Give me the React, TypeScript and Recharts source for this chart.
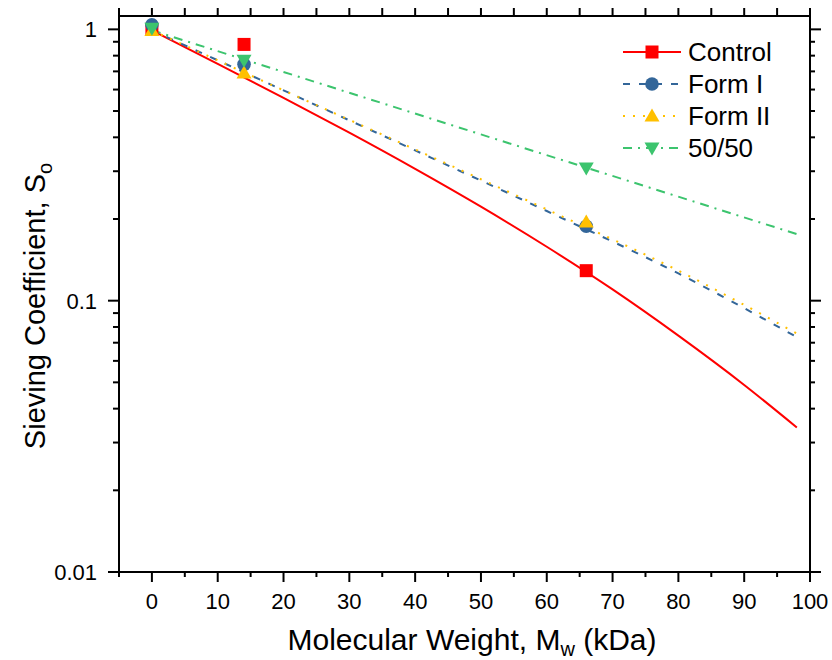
// Sieving coefficient vs molecular weight (log y)
import { ComposedChart, Line, Scatter, XAxis, YAxis, Customized } from "recharts";

const FONT = "'Liberation Sans', Arial, sans-serif";

// fitted curves
const fitX = [0, 10, 20, 30, 40, 50, 60, 70, 80, 90, 98];
const controlFit = [0.992, 0.746, 0.559, 0.416, 0.306, 0.222, 0.158, 0.11, 0.0743, 0.0489, 0.0341];
const formFitX = [0, 20, 40, 60, 80, 98];
const formIFit = [0.992, 0.596, 0.358, 0.214, 0.126, 0.0734];
const formIIFit = [0.992, 0.596, 0.361, 0.217, 0.129, 0.0757];
const blendFitX = [0, 50, 98];
const blendFit = [0.992, 0.41, 0.176];

// measured points
const measX = [0, 14, 66];
const controlPts = [1.0, 0.88, 0.129];
const formIPts = [1.04, 0.743, 0.188];
const formIIPts = [0.99, 0.69, 0.195];
const blendPts = [1.01, 0.77, 0.308];

const xTicks = [-5, 0, 5, 10, 15, 20, 25, 30, 35, 40, 45, 50, 55, 60, 65, 70, 75, 80, 85, 90, 95, 100];
const yTicks = [
  0.01, 0.02, 0.03, 0.04, 0.05, 0.06, 0.07, 0.08, 0.09,
  0.1, 0.2, 0.3, 0.4, 0.5, 0.6, 0.7, 0.8, 0.9, 1,
];

const RED = "#ff0000";
const BLUE = "#336699";
const YELLOW = "#ffc000";
const GREEN = "#3cc46e";

const pts = (xs: number[], ys: number[]) => xs.map((x, i) => ({ x, y: ys[i] }));
const isMajorY = (v: number) => Math.abs(Math.log10(v) - Math.round(Math.log10(v))) < 1e-6;

const Square = ({ cx, cy, fill }: any) => <rect x={cx - 6.5} y={cy - 6.5} width={13} height={13} fill={fill} />;
const Dot = ({ cx, cy, fill }: any) => <circle cx={cx} cy={cy} r={6.8} fill={fill} />;
const TriUp = ({ cx, cy, fill }: any) => (
  <polygon points={`${cx},${cy - 7.5} ${cx + 7.5},${cy + 5.5} ${cx - 7.5},${cy + 5.5}`} fill={fill} />
);
const TriDown = ({ cx, cy, fill }: any) => (
  <polygon points={`${cx - 7.5},${cy - 5.5} ${cx + 7.5},${cy - 5.5} ${cx},${cy + 7.5}`} fill={fill} />
);

const BottomTick = ({ x, y, payload }: any) => {
  const v = payload.value;
  const major = v % 10 === 0;
  return (
    <g>
      <line x1={x} y1={y} x2={x} y2={y + (major ? 10 : 5)} stroke="#000" strokeWidth={2} />
      {major && (
        <text x={x} y={y + 37} textAnchor="middle" fontSize={22} fontFamily={FONT} fill="#000">
          {v}
        </text>
      )}
    </g>
  );
};

const TopTick = ({ x, y }: any) => <line x1={x} y1={y} x2={x} y2={y - 8} stroke="#000" strokeWidth={2} />;

const LeftTick = ({ x, y, payload }: any) => {
  const major = isMajorY(payload.value);
  return (
    <g>
      <line x1={x} y1={y} x2={x - (major ? 11 : 6)} y2={y} stroke="#000" strokeWidth={2} />
      {major && (
        <text x={x - 22} y={y + 8} textAnchor="end" fontSize={22} fontFamily={FONT} fill="#000">
          {String(payload.value)}
        </text>
      )}
    </g>
  );
};

const RightTick = ({ x, y, payload }: any) => {
  const major = isMajorY(payload.value);
  return <line x1={x} y1={y} x2={x + (major ? 11 : 5)} y2={y} stroke="#000" strokeWidth={2} />;
};

const legendItems = [
  { name: "Control", color: RED, dash: undefined, Shape: Square },
  { name: "Form I", color: BLUE, dash: "7 9", Shape: Dot },
  { name: "Form II", color: YELLOW, dash: "2 8", Shape: TriUp },
  { name: "50/50", color: GREEN, dash: "9 6 2 6", Shape: TriDown },
];

const Overlay = () => (
  <g>
    {legendItems.map((it, i) => {
      const cy = 44 + i * 32;
      const S = it.Shape;
      return (
        <g key={it.name}>
          <line x1={615} y1={cy} x2={673} y2={cy} stroke={it.color} strokeWidth={2} strokeDasharray={it.dash} />
          <S cx={644} cy={cy} fill={it.color} />
          <text x={680} y={cy + 9} fontSize={26} fontFamily={FONT} fill="#000">
            {it.name}
          </text>
        </g>
      );
    })}
    <text x={464} y={642} textAnchor="middle" fontSize={30} fontFamily={FONT} fill="#000">
      Molecular Weight, M
      <tspan dy={6} fontSize={20}>w</tspan>
      <tspan dy={-6}> (kDa)</tspan>
    </text>
    <text transform="translate(37,298) rotate(-90)" textAnchor="middle" fontSize={29} fontFamily={FONT} fill="#000">
      Sieving Coefficient, S
      <tspan dy={7} fontSize={20}>o</tspan>
    </text>
  </g>
);

export default function App() {
  const axisLine = { stroke: "#000", strokeWidth: 2 };
  return (
    <div style={{ width: 832, height: 660, paddingLeft: 8, paddingTop: 8, boxSizing: "border-box", background: "#fff" }}>
      <style>{"body{margin:0}"}</style>
      <ComposedChart width={824} height={652} margin={{ top: 7, right: 10, bottom: 8, left: 0 }}>
        <XAxis
          xAxisId="bottom"
          dataKey="x"
          type="number"
          domain={[-5, 100]}
          ticks={xTicks}
          interval={0}
          allowDataOverflow
          height={80}
          tickSize={0}
          tickMargin={0}
          tickLine={false}
          axisLine={axisLine}
          tick={(p: any) => <BottomTick {...p} />}
        />
        <XAxis
          xAxisId="top"
          orientation="top"
          dataKey="x"
          type="number"
          domain={[-5, 100]}
          ticks={xTicks}
          interval={0}
          allowDataOverflow
          height={1}
          tickSize={0}
          tickMargin={0}
          tickLine={false}
          axisLine={axisLine}
          tick={(p: any) => <TopTick {...p} />}
        />
        <YAxis
          yAxisId="left"
          dataKey="y"
          type="number"
          scale="log"
          domain={[0.01, 1.12]}
          ticks={yTicks}
          interval={0}
          allowDataOverflow
          width={111}
          tickSize={0}
          tickMargin={0}
          tickLine={false}
          axisLine={axisLine}
          tick={(p: any) => <LeftTick {...p} />}
        />
        <YAxis
          yAxisId="right"
          orientation="right"
          dataKey="y"
          type="number"
          scale="log"
          domain={[0.01, 1.12]}
          ticks={yTicks}
          interval={0}
          allowDataOverflow
          width={12}
          tickSize={0}
          tickMargin={0}
          tickLine={false}
          axisLine={axisLine}
          tick={(p: any) => <RightTick {...p} />}
        />

        <Line xAxisId="bottom" yAxisId="left" data={pts(fitX, controlFit)} dataKey="y" type="monotone"
          stroke={RED} strokeWidth={2} dot={false} activeDot={false} isAnimationActive={false} />
        <Line xAxisId="bottom" yAxisId="left" data={pts(formFitX, formIFit)} dataKey="y" type="monotone"
          stroke={BLUE} strokeWidth={2} strokeDasharray="7 9" dot={false} activeDot={false} isAnimationActive={false} />
        <Line xAxisId="bottom" yAxisId="left" data={pts(formFitX, formIIFit)} dataKey="y" type="monotone"
          stroke={YELLOW} strokeWidth={2} strokeDasharray="2 8" dot={false} activeDot={false} isAnimationActive={false} />
        <Line xAxisId="bottom" yAxisId="left" data={pts(blendFitX, blendFit)} dataKey="y" type="linear"
          stroke={GREEN} strokeWidth={2} strokeDasharray="9 6 2 6" dot={false} activeDot={false} isAnimationActive={false} />

        <Scatter xAxisId="top" yAxisId="right" data={pts(measX, controlPts)} fill={RED} shape={Square} isAnimationActive={false} />
        <Scatter xAxisId="top" yAxisId="right" data={pts(measX, formIPts)} fill={BLUE} shape={Dot} isAnimationActive={false} />
        <Scatter xAxisId="top" yAxisId="right" data={pts(measX, formIIPts)} fill={YELLOW} shape={TriUp} isAnimationActive={false} />
        <Scatter xAxisId="top" yAxisId="right" data={pts(measX, blendPts)} fill={GREEN} shape={TriDown} isAnimationActive={false} />

        <Customized component={Overlay} />
      </ComposedChart>
    </div>
  );
}
